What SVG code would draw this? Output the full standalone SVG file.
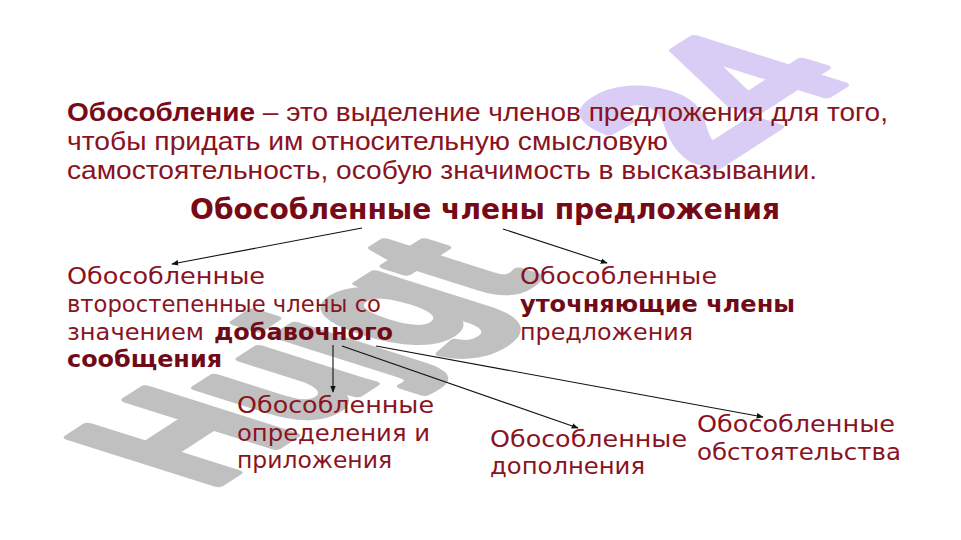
<svg xmlns="http://www.w3.org/2000/svg" width="961" height="540" viewBox="0 0 961 540">
  <defs>
    <style>
      .wm { font-family: "Liberation Sans", Arial, sans-serif; font-weight: bold; font-size: 100px; stroke-width: 5px; stroke-linejoin: round; }
      .def { font-family: "Liberation Sans", Arial, sans-serif; font-size: 26px; fill: #8a1322; }
      .defb { font-weight: bold; fill: #7a0a18; }
      .title { font-family: "DejaVu Sans", Verdana, sans-serif; font-weight: bold; font-size: 28px; fill: #760a16; }
      .node { font-family: "DejaVu Sans", Verdana, sans-serif; font-size: 23px; fill: #8a1322; }
      .nodeb { font-family: "DejaVu Sans", Verdana, sans-serif; font-size: 23px; font-weight: bold; fill: #700a16; }
      .conn { stroke: #111; stroke-width: 1.1; fill: none; marker-end: url(#arr); }
    </style>
    <marker id="arr" viewBox="0 0 10 10" refX="9" refY="5" markerWidth="7" markerHeight="7" orient="auto" markerUnits="userSpaceOnUse">
      <path d="M0,1 L10,5 L0,9 z" fill="#111"/>
    </marker>
  </defs>
  <rect x="0" y="0" width="961" height="540" fill="#ffffff"/>

  <g id="watermark">
    <text class="wm" fill="#c0c0c0" stroke="#c0c0c0" transform="matrix(1.30,-0.84,2.15,0.68,209,490)">Hujgt</text>
    <text class="wm" fill="#d9cdf6" stroke="#d9cdf6" transform="matrix(1.30,-0.84,2.15,0.68,711,170)">24</text>
  </g>

  <g id="definition">
    <text class="def" x="67" y="121" textLength="821" lengthAdjust="spacingAndGlyphs"><tspan class="defb">Обособление</tspan> – это выделение членов предложения для того,</text>
    <text class="def" x="67" y="150" textLength="601" lengthAdjust="spacingAndGlyphs">чтобы придать им относительную смысловую</text>
    <text class="def" x="67" y="179" textLength="750" lengthAdjust="spacingAndGlyphs">самостоятельность, особую значимость в высказывании.</text>
  </g>

  <g id="node-root">
    <text class="title" x="190" y="219" textLength="590" lengthAdjust="spacingAndGlyphs">Обособленные члены предложения</text>
  </g>

  <g id="node-secondary">
    <text class="node" x="67" y="284" textLength="198" lengthAdjust="spacingAndGlyphs">Обособленные</text>
    <text class="node" x="67" y="312" textLength="314" lengthAdjust="spacingAndGlyphs">второстепенные члены со</text>
    <text class="node" x="67" y="340" textLength="137" lengthAdjust="spacingAndGlyphs">значением</text>
    <text class="nodeb" x="214" y="340" textLength="179" lengthAdjust="spacingAndGlyphs">добавочного</text>
    <text class="nodeb" x="67" y="367" textLength="155" lengthAdjust="spacingAndGlyphs">сообщения</text>
  </g>

  <g id="node-clarifying">
    <text class="node" x="520" y="284" textLength="197" lengthAdjust="spacingAndGlyphs">Обособленные</text>
    <text class="nodeb" x="520" y="312" textLength="275" lengthAdjust="spacingAndGlyphs">уточняющие члены</text>
    <text class="node" x="520" y="340" textLength="173" lengthAdjust="spacingAndGlyphs">предложения</text>
  </g>

  <g id="node-definitions">
    <text class="node" x="237" y="413" textLength="197" lengthAdjust="spacingAndGlyphs">Обособленные</text>
    <text class="node" x="237" y="441" textLength="193" lengthAdjust="spacingAndGlyphs">определения и</text>
    <text class="node" x="237" y="468" textLength="155" lengthAdjust="spacingAndGlyphs">приложения</text>
  </g>

  <g id="node-objects">
    <text class="node" x="490" y="447" textLength="197" lengthAdjust="spacingAndGlyphs">Обособленные</text>
    <text class="node" x="490" y="474" textLength="155" lengthAdjust="spacingAndGlyphs">дополнения</text>
  </g>

  <g id="node-circumstances">
    <text class="node" x="697" y="432" textLength="198" lengthAdjust="spacingAndGlyphs">Обособленные</text>
    <text class="node" x="697" y="460" textLength="204" lengthAdjust="spacingAndGlyphs">обстоятельства</text>
  </g>

  <g id="connectors">
    <line class="conn" x1="362" y1="228" x2="172" y2="264"/>
    <line class="conn" x1="503" y1="229" x2="607" y2="263"/>
    <line class="conn" x1="333" y1="345" x2="333" y2="392"/>
    <line class="conn" x1="342" y1="346" x2="578" y2="428"/>
    <line class="conn" x1="376" y1="346" x2="763" y2="417"/>
  </g>
</svg>
